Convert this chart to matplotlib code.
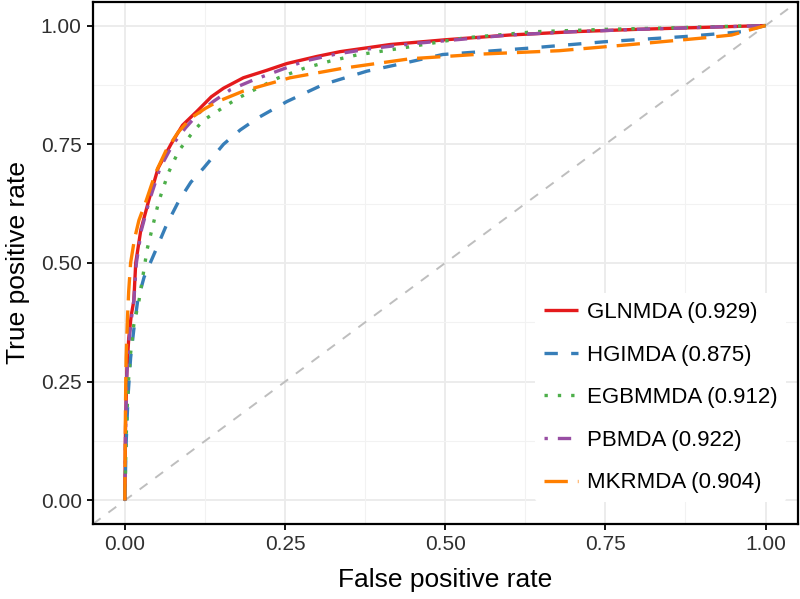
import numpy as np
import matplotlib.pyplot as plt

plt.rcParams['font.family'] = ['Liberation Sans', 'DejaVu Sans']

# ROC points
gln_fpr = [0.0, 0.001, 0.003, 0.006, 0.010, 0.014, 0.017, 0.025, 0.037, 0.052, 0.072, 0.090, 0.113, 0.135, 0.154, 0.185, 0.22, 0.253, 0.30, 0.336, 0.414, 0.50, 0.60, 0.70, 0.80, 0.90, 1.0]
gln_tpr = [0.0, 0.15, 0.27, 0.34, 0.39, 0.42, 0.50, 0.57, 0.63, 0.70, 0.75, 0.79, 0.82, 0.85, 0.868, 0.89, 0.905, 0.92, 0.935, 0.945, 0.96, 0.97, 0.98, 0.987, 0.992, 0.996, 1.0]

hgi_fpr = [0.0, 0.002, 0.005, 0.009, 0.014, 0.020, 0.030, 0.048, 0.065, 0.084, 0.103, 0.123, 0.154, 0.18, 0.207, 0.253, 0.31, 0.378, 0.44, 0.496, 0.627, 0.75, 0.876, 0.963, 1.0]
hgi_tpr = [0.0, 0.12, 0.22, 0.30, 0.36, 0.42, 0.47, 0.526, 0.58, 0.63, 0.67, 0.70, 0.75, 0.78, 0.805, 0.84, 0.876, 0.904, 0.922, 0.939, 0.952, 0.966, 0.977, 0.987, 1.0]

egb_fpr = [0.0, 0.002, 0.005, 0.009, 0.014, 0.022, 0.035, 0.053, 0.068, 0.084, 0.103, 0.122, 0.145, 0.175, 0.207, 0.24, 0.28, 0.32, 0.362, 0.43, 0.53, 0.64, 0.75, 0.85, 0.93, 1.0]
egb_tpr = [0.0, 0.13, 0.24, 0.31, 0.37, 0.42, 0.53, 0.63, 0.69, 0.736, 0.77, 0.80, 0.82, 0.846, 0.868, 0.89, 0.91, 0.925, 0.938, 0.952, 0.974, 0.987, 0.992, 0.995, 0.998, 1.0]

pbm_fpr = [0.0, 0.001, 0.003, 0.006, 0.010, 0.014, 0.018, 0.026, 0.038, 0.055, 0.075, 0.095, 0.115, 0.138, 0.165, 0.20, 0.24, 0.28, 0.33, 0.387, 0.45, 0.50, 0.60, 0.70, 0.80, 0.90, 1.0]
pbm_tpr = [0.0, 0.14, 0.26, 0.33, 0.38, 0.42, 0.50, 0.57, 0.63, 0.70, 0.75, 0.785, 0.815, 0.84, 0.865, 0.885, 0.905, 0.925, 0.94, 0.952, 0.962, 0.968, 0.98, 0.987, 0.992, 0.996, 1.0]

mkr_fpr = [0.0, 0.0005, 0.001, 0.002, 0.004, 0.006, 0.009, 0.015, 0.022, 0.033, 0.048, 0.064, 0.083, 0.103, 0.125, 0.145, 0.185, 0.258, 0.34, 0.445, 0.558, 0.678, 0.79, 0.896, 0.947, 1.0]
mkr_tpr = [0.0, 0.10, 0.20, 0.30, 0.38, 0.44, 0.50, 0.55, 0.59, 0.63, 0.69, 0.736, 0.775, 0.805, 0.825, 0.84, 0.862, 0.89, 0.91, 0.93, 0.94, 0.947, 0.96, 0.973, 0.98, 1.0]

labels = ['GLNMDA (0.929)', 'HGIMDA (0.875)', 'EGBMMDA (0.912)', 'PBMDA (0.922)', 'MKRMDA (0.904)']
colors = ['#E41A1C', '#377EB8', '#4DAF4A', '#984EA3', '#FF7F00']
# ggplot linetypes: solid, dashed, dotted, dotdash, longdash
styles = ['-', (0, (4, 4)), (0, (1, 3)), (0, (1, 3, 4, 3)), (0, (7, 3))]
curves = [(gln_fpr, gln_tpr), (hgi_fpr, hgi_tpr), (egb_fpr, egb_tpr), (pbm_fpr, pbm_tpr), (mkr_fpr, mkr_tpr)]

fig = plt.figure(figsize=(8, 5.99), dpi=100)
ax = fig.add_axes([0.116, 0.125, 0.881, 0.872])

# grid like theme_bw
ticks = np.arange(0, 1.01, 0.25)
minor = np.arange(0.125, 1.0, 0.25)
for t in ticks:
    ax.axvline(t, color='#EBEBEB', lw=1.3, zorder=0)
    ax.axhline(t, color='#EBEBEB', lw=1.3, zorder=0)
for t in minor:
    ax.axvline(t, color='#F2F2F2', lw=0.8, zorder=0)
    ax.axhline(t, color='#F2F2F2', lw=0.8, zorder=0)

ax.plot([-0.05, 1.05], [-0.05, 1.05], color='#BEBEBE', lw=1.4, ls=(0, (5, 5)), zorder=1)

for (fx, ty), lab, col, st in zip(curves, labels, colors, styles):
    ax.plot(fx, ty, color=col, ls=st, lw=2.4, label=lab, zorder=2, solid_capstyle='butt', dash_capstyle='butt')

ax.set_xlim(-0.05, 1.05)
ax.set_ylim(-0.05, 1.05)
ax.set_xticks(ticks)
ax.set_yticks(ticks)
ax.set_xticklabels(['0.00', '0.25', '0.50', '0.75', '1.00'])
ax.set_yticklabels(['0.00', '0.25', '0.50', '0.75', '1.00'])
ax.tick_params(direction='out', length=4, width=1.3, labelsize=15, colors='black', labelcolor='#303030', pad=4)
for s in ax.spines.values():
    s.set_linewidth(1.6)
    s.set_color('black')

ax.set_xlabel('False positive rate', fontsize=19, labelpad=10)
ax.set_ylabel('True positive rate', fontsize=19, labelpad=8)

leg = ax.legend(loc='upper left', bbox_to_anchor=(0.628, 0.442), fontsize=16, frameon=True,
                facecolor='white', edgecolor='white', framealpha=1, handlelength=1.5,
                labelspacing=0.97, handletextpad=0.4, borderaxespad=0, borderpad=0.4)
leg.get_frame().set_linewidth(0)

plt.savefig('out.png', dpi=100)
